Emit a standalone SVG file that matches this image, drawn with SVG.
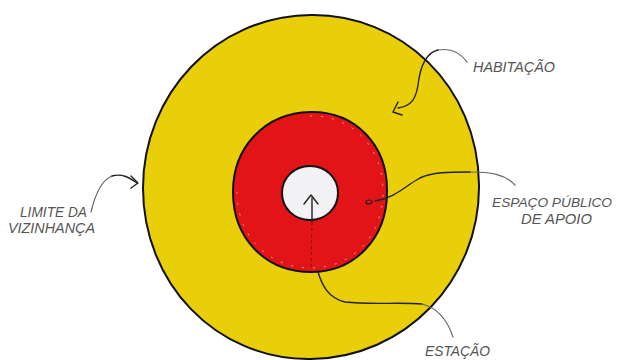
<svg xmlns="http://www.w3.org/2000/svg" width="622" height="360" viewBox="0 0 622 360">
<style>
.lbl{font-family:"Liberation Sans","DejaVu Sans",sans-serif;font-style:italic;font-size:15px;fill:#555}
.sm{font-size:13.5px}
.lead{fill:none;stroke:#222;stroke-width:1.4;stroke-linecap:round;stroke-linejoin:round}
.leadg{fill:none;stroke:#666;stroke-width:1.2;stroke-linecap:round}
</style>
<rect width="622" height="360" fill="#fff"/>
<g id="vizinhanca">
<path d="M311,15 C400,14 478,85 479,185 C480,280 405,358 311,359 C215,360 143,282 143,188 C143,95 215,16 311,15 Z" fill="#e9cf0a" stroke="#111" stroke-width="2"/>
</g>
<g id="espaco-publico">
<path d="M310,112 C355,111 388,145 387,192 C387,238 355,272 311,272 C265,272 233,238 233,192 C233,147 265,113 310,112 Z" fill="#e21418" stroke="#111" stroke-width="2"/>
<path d="M310,116 C352,115 383,147 383,192 C383,236 352,268 311,268 C268,268 237,236 237,192" fill="none" stroke="#f4d0d0" stroke-width="1" stroke-dasharray="2 9" opacity="0.7"/>
</g>
<g id="estacao">
<path d="M310,166 C326,166 338,178 338,193 C338,208 326,220 310,220 C294,220 282,208 282,193 C282,178 294,166 310,166 Z" fill="#f2f2f4" stroke="#111" stroke-width="2"/>
</g>
<g id="connectors">
<path class="lead" d="M312,198 L312,222"/>
<path class="lead" d="M304,204 L311,195 L318,204"/>
<path d="M312,222 L311,270" fill="none" stroke="#8a0a0a" stroke-width="1" stroke-dasharray="3 3"/>
<path class="lead" d="M318,272 C322,285 328,298 345,302 C370,305 400,302 422,304"/>
<path class="leadg" d="M422,304 C438,308 448,322 453,337"/>
<path class="leadg" d="M467,62 C460,52 450,48 438,50"/>
<path class="lead" d="M438,50 C425,53 420,68 418,85 C416,98 412,106 398,108"/>
<path class="lead" d="M398,102 L393,112 L402,115"/>
<path class="leadg" d="M515,185 C505,174 490,172 470,172"/>
<path class="lead" d="M470,172 C450,172 432,172 420,178 C405,186 395,198 375,201"/>
<ellipse cx="369" cy="202" rx="3" ry="2" fill="none" stroke="#222" stroke-width="1.2"/>
<path class="leadg" d="M91,212 C95,195 102,180 112,176"/>
<path class="lead" d="M112,176 C122,173 130,178 137,183"/>
<path class="lead" d="M131,176 L138,183 L131,188"/>
</g>
<g id="labels">
<text class="lbl" x="473" y="72" textLength="82" lengthAdjust="spacingAndGlyphs">HABITAÇÃO</text>
<text class="lbl sm" x="492" y="207" textLength="120" lengthAdjust="spacingAndGlyphs">ESPAÇO PÚBLICO</text>
<text class="lbl" x="521" y="224" textLength="71" lengthAdjust="spacingAndGlyphs">DE APOIO</text>
<text class="lbl" x="20" y="217" textLength="67" lengthAdjust="spacingAndGlyphs">LIMITE DA</text>
<text class="lbl" x="8" y="233" textLength="87" lengthAdjust="spacingAndGlyphs">VIZINHANÇA</text>
<text class="lbl" x="425" y="356" textLength="65" lengthAdjust="spacingAndGlyphs">ESTAÇÃO</text>
</g>
</svg>
